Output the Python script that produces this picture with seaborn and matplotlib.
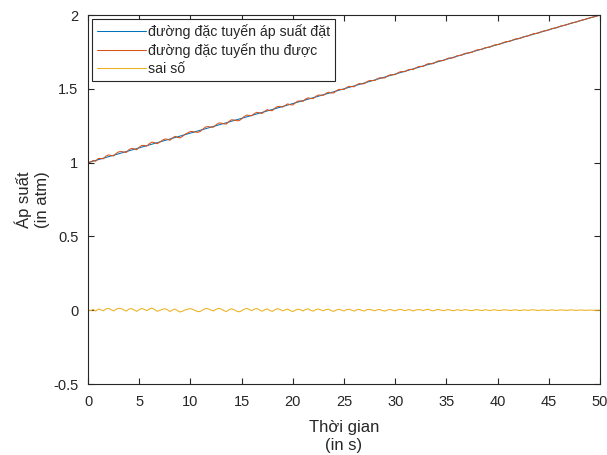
import numpy as np
import pandas as pd
import matplotlib
matplotlib.use('Agg')
import matplotlib.pyplot as plt
import seaborn as sns

# set pressure (straight ramp)
set_time = [0, 50]
set_pressure = [1.0, 2.0]

# measured pressure, one sample every 0.25 s
measured = [
    1.002, 1.002, 1.015, 1.009, 1.028, 1.028, 1.026, 1.044, 1.052, 1.049,
    1.045, 1.062, 1.073, 1.075, 1.072, 1.069, 1.088, 1.096, 1.093, 1.087,
    1.104, 1.117, 1.116, 1.112, 1.129, 1.139, 1.135, 1.128, 1.138, 1.151,
    1.160, 1.158, 1.151, 1.167, 1.178, 1.171, 1.168, 1.179, 1.193, 1.202,
    1.211, 1.210, 1.207, 1.205, 1.213, 1.229, 1.242, 1.244, 1.241, 1.240,
    1.256, 1.268, 1.268, 1.263, 1.261, 1.278, 1.290, 1.289, 1.284, 1.284,
    1.296, 1.312, 1.322, 1.320, 1.317, 1.333, 1.341, 1.337, 1.333, 1.348,
    1.359, 1.353, 1.352, 1.369, 1.380, 1.381, 1.376, 1.387, 1.398, 1.392,
    1.391, 1.406, 1.417, 1.418, 1.415, 1.431, 1.439, 1.434, 1.434, 1.449,
    1.458, 1.457, 1.456, 1.470, 1.477, 1.472, 1.472, 1.487, 1.496, 1.496,
    1.495, 1.509, 1.517, 1.515, 1.514, 1.528, 1.536, 1.533, 1.535, 1.549,
    1.556, 1.556, 1.556, 1.568, 1.575, 1.573, 1.574, 1.587, 1.595, 1.595,
    1.596, 1.608, 1.616, 1.616, 1.617, 1.629, 1.632, 1.630, 1.641, 1.650,
    1.652, 1.652, 1.664, 1.671, 1.669, 1.671, 1.683, 1.690, 1.690, 1.692,
    1.702, 1.709, 1.708, 1.712, 1.723, 1.726, 1.728, 1.739, 1.742, 1.744,
    1.747, 1.757, 1.764, 1.765, 1.768, 1.778, 1.781, 1.782, 1.792, 1.798,
    1.799, 1.803, 1.812, 1.818, 1.820, 1.823, 1.831, 1.838, 1.839, 1.843,
    1.852, 1.856, 1.859, 1.867, 1.873, 1.875, 1.878, 1.886, 1.892, 1.894,
    1.899, 1.907, 1.911, 1.913, 1.921, 1.927, 1.930, 1.934, 1.941, 1.947,
    1.950, 1.954, 1.961, 1.966, 1.969, 1.975, 1.981, 1.985, 1.989, 1.995,
    2.000,
]

# error between measured and set pressure
error = [
    0.002, -0.003, 0.005, -0.006, 0.008, 0.003, -0.004, 0.009, 0.012, 0.004,
    -0.005, 0.007, 0.013, 0.010, 0.002, -0.006, 0.008, 0.011, 0.003, -0.008,
    0.004, 0.012, 0.006, -0.003, 0.009, 0.014, 0.005, -0.007, -0.002, 0.006,
    0.010, 0.003, -0.009, 0.002, 0.008, -0.004, -0.012, -0.006, 0.003, 0.007,
    0.011, 0.005, -0.003, -0.010, -0.007, 0.004, 0.012, 0.009, 0.001, -0.005,
    0.006, 0.013, 0.008, -0.002, -0.009, 0.003, 0.010, 0.004, -0.006, -0.011,
    -0.004, 0.007, 0.012, 0.005, -0.003, 0.008, 0.011, 0.002, -0.007, 0.003,
    0.009, -0.002, -0.008, 0.004, 0.010, 0.006, -0.004, 0.002, 0.008, -0.003,
    -0.009, 0.001, 0.007, 0.003, -0.005, 0.006, 0.009, -0.001, -0.006, 0.004,
    0.008, 0.002, -0.004, 0.005, 0.007, -0.003, -0.008, 0.002, 0.006, 0.001,
    -0.005, 0.004, 0.007, 0.000, -0.006, 0.003, 0.006, -0.002, -0.005, 0.004,
    0.006, 0.001, -0.004, 0.003, 0.005, -0.002, -0.006, 0.002, 0.005, 0.000,
    -0.004, 0.003, 0.006, 0.001, -0.003, 0.004, 0.002, -0.005, 0.001, 0.005,
    0.002, -0.003, 0.004, 0.006, -0.001, -0.004, 0.003, 0.005, 0.000, -0.003,
    0.002, 0.004, -0.002, -0.003, 0.003, 0.001, -0.002, 0.004, 0.002, -0.001,
    -0.003, 0.002, 0.004, 0.000, -0.002, 0.003, 0.001, -0.003, 0.002, 0.003,
    -0.001, -0.002, 0.002, 0.003, 0.000, -0.002, 0.001, 0.003, -0.001, -0.002,
    0.002, 0.001, -0.001, 0.002, 0.003, 0.000, -0.002, 0.001, 0.002, -0.001,
    -0.001, 0.002, 0.001, -0.002, 0.001, 0.002, 0.000, -0.001, 0.001, 0.002,
    0.000, -0.001, 0.001, 0.001, -0.001, 0.000, 0.001, 0.000, -0.001, 0.000,
    0.000,
]

x_ticks = [0, 5, 10, 15, 20, 25, 30, 35, 40, 45, 50]
y_ticks = [-0.5, 0, 0.5, 1, 1.5, 2]
y_tick_labels = ['-0.5', '0', '0.5', '1', '1.5', '2']

labels = ['đường đặc tuyến áp suất đặt', 'đường đặc tuyến thu được', 'sai số']
colors = ['#0072BD', '#D95319', '#EDB120']

sns.set_style('ticks')
plt.rcParams['font.family'] = ['Liberation Sans', 'DejaVu Sans']

time = np.linspace(0, 50, len(measured))

fig = plt.figure(figsize=(6.07, 4.55), dpi=100)
ax = fig.add_axes([0.145, 0.156, 0.8435, 0.811])

sns.lineplot(x=set_time, y=set_pressure, color=colors[0], linewidth=0.75,
             label=labels[0], ax=ax)
sns.lineplot(x=time, y=measured, color=colors[1], linewidth=0.75,
             label=labels[1], ax=ax)
sns.lineplot(x=time, y=error, color=colors[2], linewidth=0.75,
             label=labels[2], ax=ax)

ax.set_xlim(0, 50)
ax.set_ylim(-0.5, 2)
ax.set_xticks(x_ticks)
ax.set_xticklabels([str(t) for t in x_ticks])
ax.set_yticks(y_ticks)
ax.set_yticklabels(y_tick_labels)

ax.tick_params(axis='both', direction='in', top=True, right=True, length=4,
               width=0.8, labelsize=10.5, colors='#262626')
ax.tick_params(axis='x', pad=8)
ax.tick_params(axis='y', pad=7)
for side in ax.spines.values():
    side.set_color('#262626')
    side.set_linewidth(0.8)

ax.set_xlabel('Thời gian\n(in s)', fontsize=12, color='#262626', labelpad=8,
              linespacing=1.25)
ax.set_ylabel('Áp suất\n(in atm)', fontsize=12, color='#262626', labelpad=2,
              linespacing=1.25)

leg = ax.legend(loc='upper left', fontsize=10.2, handlelength=3.45,
                frameon=True, fancybox=False, framealpha=1,
                borderaxespad=0.3, borderpad=0.35, labelspacing=0.3,
                handletextpad=0.12)
leg.get_frame().set_edgecolor('#262626')
leg.get_frame().set_linewidth(0.8)

fig.savefig('out.png', dpi=100)
